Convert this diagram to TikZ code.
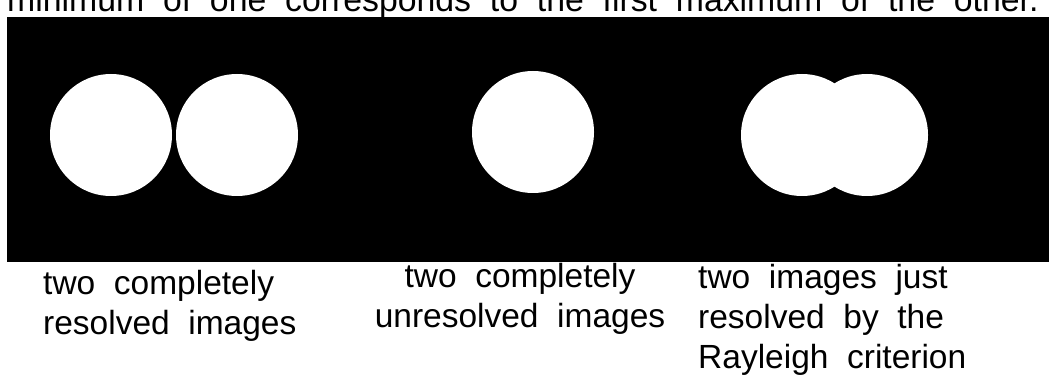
\documentclass[tikz,border=0pt]{standalone}
\usepackage{fontspec}
\setmainfont{Liberation Sans}[WordSpace=2]
\usetikzlibrary{positioning}
\tikzset{
  spot/.style   ={circle, fill=white, minimum size=122pt, inner sep=0pt},
  captxt/.style ={inner sep=0pt, font=\fontsize{33.5}{40}\selectfont},
  screen/.style ={fill=black}
}
\begin{document}
\begin{tikzpicture}[x=1pt, y=-1pt]
\useasboundingbox (0,0) rectangle (1049,382);
\node[captxt, anchor=base west, font=\fontsize{33.8}{40}\selectfont] (title) at (7,11.5)
      {minimum of one corresponds to the first maximum of the other.};
\fill[screen] (7,17) rectangle (1049,262);
% two completely resolved images
\node[spot] (resA) at (111,135) {};
\node[spot] (resB) at (237,135) {};
% two completely unresolved images
\node[spot] (unres) at (533,132) {};
% just resolved by the Rayleigh criterion
\node[spot] (rayA) at (802,135) {};
\node[spot] (rayB) at (867,135) {};

\node[captxt, align=left, anchor=base west] (capres) at (43,334)
      {two completely\\resolved images};
\node[captxt, align=center, anchor=base] (capunres) at (520,327)
      {two completely\\unresolved images};
\node[captxt, align=left, anchor=base west] (capray) at (698,368)
      {two images just\\resolved by the\\Rayleigh criterion};
\end{tikzpicture}
\end{document}
